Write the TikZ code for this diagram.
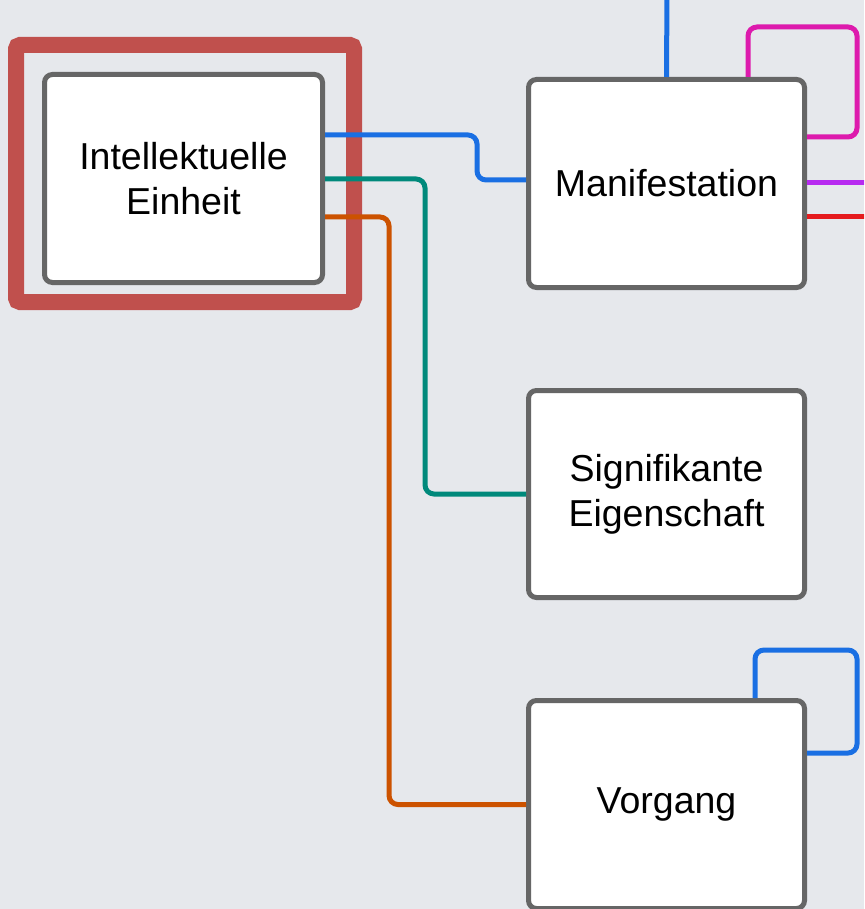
\documentclass[tikz,border=0pt]{standalone}
\usepackage{fontspec}
\setmainfont{Liberation Sans}

\definecolor{bgGray}{HTML}{E6E8EC}
\definecolor{boxGray}{HTML}{666666}
\definecolor{frameRed}{HTML}{C0504D}
\definecolor{linkBlue}{HTML}{1A6FE3}
\definecolor{linkTeal}{HTML}{00897B}
\definecolor{linkOrange}{HTML}{CC5200}
\definecolor{linkMagenta}{HTML}{DD1AAD}
\definecolor{linkPurple}{HTML}{B72AF0}
\definecolor{linkRed}{HTML}{E51B1E}

\def \linkWidth {5pt}
\def \boxWidth {276pt}

\begin{document}
\begin{tikzpicture}[x=1pt, y=-1pt,
   entity/.style={draw=boxGray, line width=\linkWidth, fill=white, rounded corners=8pt,
      minimum width=\boxWidth, minimum height=208pt, align=center,
      font=\fontsize{37.5}{45}\selectfont},
   link/.style={line width=\linkWidth, rounded corners=9pt}]
      \clip (0,0) rectangle (864,909);
      \fill[bgGray] (0,0) rectangle (864,909);

      % highlight frame
      \draw[frameRed, line width=16pt, rounded corners=4pt] (16,45) rectangle (354,302);

      \node[entity, minimum width=278pt] (einheit) at (183.5,178.5) {Intellektuelle\\Einheit};
      \node[entity] (manif) at (666.5,183.5) {Manifestation};
      \node[entity, minimum height=207pt] (eigensch) at (666.5,494) {Signifikante\\Eigenschaft};
      \node[entity] (vorgang) at (666.5,804.5) {\raisebox{-4pt}{Vorgang}};

      \coordinate (topIn) at (667,-10);
      \coordinate (purpleOut) at (880,183);
      \coordinate (redOut) at (880,217);

      % links from the intellectual unit
      \draw[link, linkBlue] (einheit.east |- 0,135) -- (477,135) |- (manif.west |- 0,180);
      \draw[link, linkTeal] (einheit.east |- 0,179) -- (425,179) |- (eigensch.west);
      \draw[link, linkOrange] (einheit.east |- 0,217) -- (389,217) |- (vorgang.west);

      % links of the manifestation
      \draw[link, linkBlue] (manif.north) -- (topIn);
      \draw[link, linkMagenta] (manif.north -| 748,0) |- (857,27) |- (manif.east |- 0,137);
      \draw[link, linkPurple] (manif.east |- 0,183) -- (purpleOut);
      \draw[link, linkRed] (manif.east |- 0,217) -- (redOut);

      % self link of the process
      \draw[link, linkBlue] (vorgang.north -| 755,0) |- (857,650) |- (vorgang.east |- 0,753);
\end{tikzpicture}
\end{document}
